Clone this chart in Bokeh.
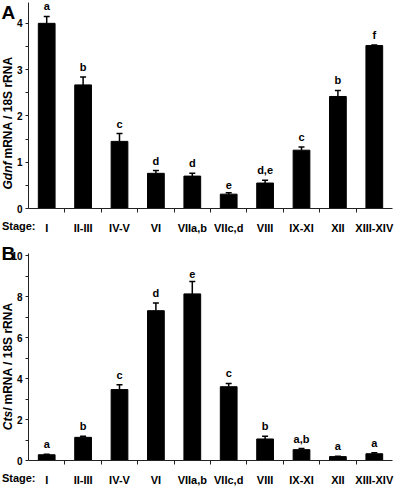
import math
from bokeh.plotting import figure
from bokeh.models import ColumnDataSource, FixedTicker, Range1d, Whisker, TeeHead
from bokeh.layouts import column
from bokeh.core.properties import value
from bokeh.embed import file_html
from bokeh.resources import INLINE

stages = ["I", "II-III", "IV-V", "VI", "VIIa,b", "VIIc,d", "VIII", "IX-XI", "XII", "XIII-XIV"]

gdnf = [4.00, 2.67, 1.45, 0.76, 0.70, 0.31, 0.55, 1.26, 2.42, 3.52]
gdnf_err = [0.15, 0.17, 0.17, 0.06, 0.06, 0.03, 0.06, 0.07, 0.13, 0.01]
gdnf_sig = ["a", "b", "c", "d", "d", "e", "d,e", "c", "b", "f"]
gdnf_ticks = [0, 1, 2, 3, 4]
gdnf_minor = [0.5, 1.5, 2.5, 3.5]

ctsl = [0.28, 1.13, 3.46, 7.31, 8.13, 3.60, 1.05, 0.53, 0.19, 0.33]
ctsl_err = [0.02, 0.05, 0.23, 0.38, 0.60, 0.16, 0.13, 0.05, 0.02, 0.05]
ctsl_sig = ["a", "b", "c", "d", "e", "c", "b", "a,b", "a", "a"]
ctsl_ticks = [0, 2, 4, 6, 8, 10]
ctsl_minor = [1, 3, 5, 7, 9]

FONT = "Liberation Sans"


def note(p, x, y, txt, dx, dy, size, align="left", baseline="top", style="bold", angle=0.0):
    # unclipped text (overlay level) anchored to a data point plus a pixel offset
    p.text(x=[x], y=[y], text=[txt], x_offset=dx, y_offset=dy, angle=angle,
           text_align=align, text_baseline=baseline, text_font=value(FONT),
           text_font_style=style, text_font_size=size, text_color="black", level="overlay")


def panel(vals, errs, sig, ticks, minor, ymax, gene, letter, height, btop, bbot, lab_off, letter_off):
    idx = list(range(len(stages)))
    p = figure(width=402, height=height, output_backend="svg", toolbar_location=None,
               x_range=Range1d(-0.5, len(stages) - 0.5), y_range=Range1d(0, ymax),
               min_border_left=28, min_border_right=10, min_border_top=btop, min_border_bottom=bbot)
    p.outline_line_color = None
    p.xgrid.visible = False
    p.ygrid.visible = False
    p.background_fill_color = "white"
    p.border_fill_color = "white"

    src = ColumnDataSource(dict(x=idx, top=vals, upper=[v + e for v, e in zip(vals, errs)], sig=sig))
    w = Whisker(source=src, base="x", upper="upper", lower="top", dimension="height",
                upper_head=TeeHead(size=6, line_width=1.5, line_color="black"), lower_head=None,
                line_width=1.5, line_color="black")
    p.add_layout(w)
    p.vbar(x="x", top="top", width=0.46, source=src, fill_color="black", line_color="black")
    p.text(x="x", y="upper", text="sig", source=src, text_align="center", text_baseline="bottom",
           y_offset=-4, text_font=value(FONT), text_font_style="bold", text_font_size="11px",
           text_color="black")

    xa = p.xaxis[0]
    xa.ticker = FixedTicker(ticks=idx, minor_ticks=[i + 0.5 for i in idx[:-1]])
    xa.major_label_overrides = {i: s for i, s in zip(idx, stages)}
    xa.major_tick_out = 0
    xa.major_tick_in = 0
    xa.minor_tick_out = 4
    xa.minor_tick_in = 0
    xa.major_label_standoff = 9
    xa.major_label_text_font = FONT
    xa.major_label_text_font_style = "bold"
    xa.major_label_text_font_size = "11px"
    xa.major_label_text_color = "black"
    xa.axis_line_color = "#222222"
    xa.minor_tick_line_color = "#222222"

    ya = p.yaxis[0]
    ya.ticker = FixedTicker(ticks=ticks, minor_ticks=minor)
    ya.major_tick_out = 3
    ya.major_tick_in = 0
    ya.minor_tick_out = 3
    ya.minor_tick_in = 0
    ya.major_label_standoff = 3
    ya.major_label_text_font = FONT
    ya.major_label_text_font_style = "bold"
    ya.major_label_text_font_size = "10px"
    ya.major_label_text_color = "black"
    ya.axis_line_color = "#222222"
    ya.major_tick_line_color = "#222222"
    ya.minor_tick_line_color = "#222222"

    x0 = -0.5
    note(p, x0, 0, "Stage:", 7, 11, "11px", align="right", baseline="top")
    note(p, x0, 0, gene, -21, -lab_off, "12px", align="right", baseline="middle",
         style="bold italic", angle=math.pi / 2)
    note(p, x0, 0, "mRNA / 18S rRNA", -21, -lab_off - 3, "12px", align="left",
         baseline="middle", angle=math.pi / 2)
    note(p, x0, ymax, letter, -27, -letter_off, "19px", align="left", baseline="top")
    return p


pA = panel(gdnf, gdnf_err, gdnf_sig, gdnf_ticks, gdnf_minor, 4.45, "Gdnf", "A", 238, 2, 30, 47, 1)
pB = panel(ctsl, ctsl_err, ctsl_sig, ctsl_ticks, ctsl_minor, 10.1, "Ctsl", "B", 250, 15, 22, 53, 11)

layout = column(pA, pB, spacing=0)
open("out.html", "w").write(file_html(layout, INLINE))
